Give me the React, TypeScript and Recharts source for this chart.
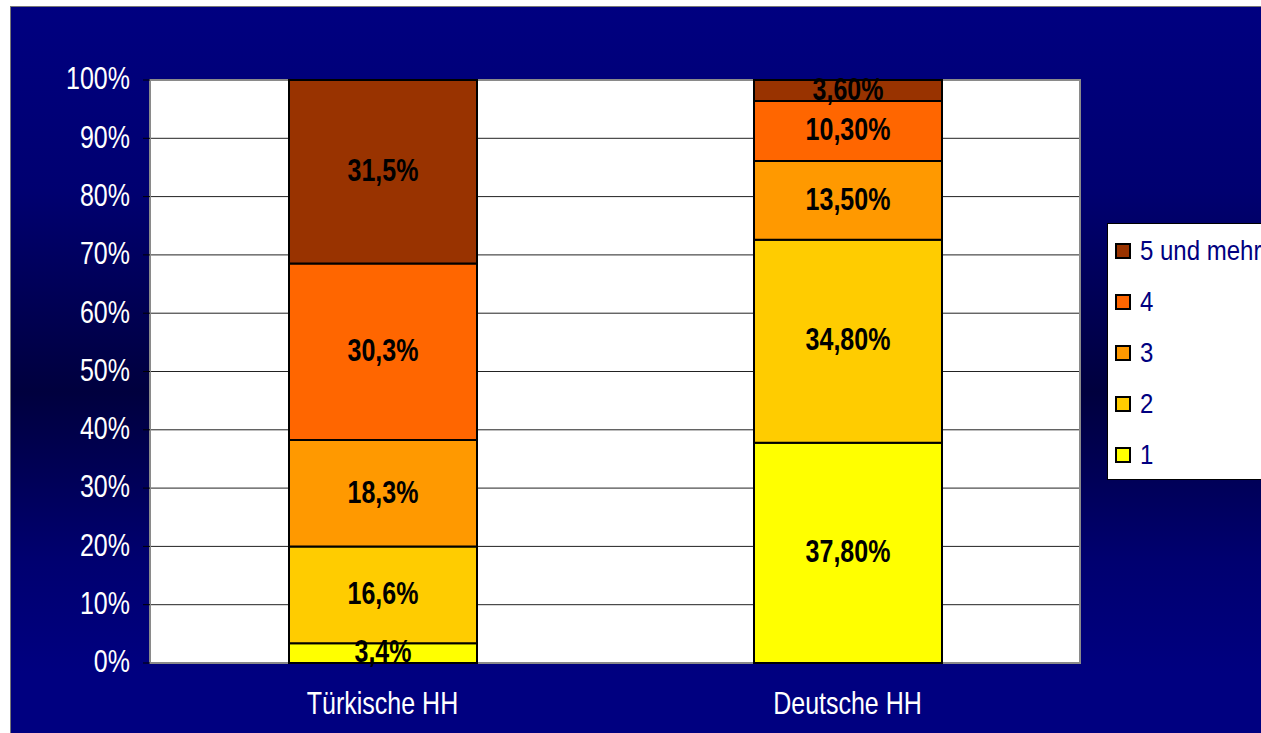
import React from "react";
import {
  Bar,
  BarChart,
  CartesianGrid,
  LabelList,
  Legend,
  ReferenceArea,
  XAxis,
  YAxis,
} from "recharts";

const categories = ["Türkische HH", "Deutsche HH"];
const seriesNames = ["1", "2", "3", "4", "5 und mehr"];
const seriesColors = ["#FFFF00", "#FFCC00", "#FF9900", "#FF6600", "#993300"];
const tuerkischeValues = [3.4, 16.6, 18.3, 30.3, 31.5];
const deutscheValues = [37.8, 34.8, 13.5, 10.3, 3.6];
const labelDecimals = [1, 2];
const yTicks = [0, 0.1, 0.2, 0.3, 0.4, 0.5, 0.6, 0.7, 0.8, 0.9, 1];

const FONT = "'Liberation Sans', Arial, Helvetica, sans-serif";
const STRETCH = 1.24;

const data = categories.map((c, i) => {
  const vals = i === 0 ? tuerkischeValues : deutscheValues;
  const row: Record<string, any> = { name: c, decimals: labelDecimals[i] };
  seriesNames.forEach((_, j) => {
    row["s" + j] = vals[j];
  });
  return row;
});

function fmt(v: number, decimals: number): string {
  return v.toFixed(decimals).replace(".", ",") + "%";
}

function SegmentLabel(props: any) {
  const x = Number(props.x);
  const y = Number(props.y);
  const w = Number(props.width);
  const h = Number(props.height);
  return (
    <g transform={`translate(${x + w / 2},${y + h / 2}) scale(1,${STRETCH})`}>
      <text x={0} y={0} dy="0.3em" textAnchor="middle" fontFamily={FONT} fontWeight="bold" fontSize={25} fill="#000">
        {props.value}
      </text>
    </g>
  );
}

function YTick(props: any) {
  const { x, y, payload } = props;
  return (
    <g transform={`translate(${x},${y}) scale(1,${STRETCH})`}>
      <text x={0} y={0} dy="0.3em" textAnchor="end" fontFamily={FONT} fontSize={25} fill="#fff">
        {Math.round(payload.value * 100) + "%"}
      </text>
    </g>
  );
}

function XTick(props: any) {
  const { x, y, payload } = props;
  return (
    <g transform={`translate(${x},${y}) scale(1,${STRETCH})`}>
      <text x={0} y={0} textAnchor="middle" fontFamily={FONT} fontSize={25} fill="#fff">
        {payload.value}
      </text>
    </g>
  );
}

function LegendBox(props: any) {
  const items = [...(props.payload ?? [])].reverse();
  return (
    <div
      style={{
        width: 200,
        height: 257,
        background: "#fff",
        border: "1px solid #000",
        boxSizing: "border-box",
        paddingTop: 1,
      }}
    >
      {items.map((it: any) => (
        <div key={it.value} style={{ height: 51.2, display: "flex", alignItems: "center" }}>
          <span
            style={{
              width: 12,
              height: 12,
              border: "2px solid #000",
              background: it.color,
              marginLeft: 7,
              flex: "none",
            }}
          />
          <span
            style={{
              marginLeft: 9,
              color: "#000080",
              fontFamily: FONT,
              fontSize: 24,
              lineHeight: 1,
              whiteSpace: "nowrap",
              display: "inline-block",
              transform: "scaleY(1.15)",
            }}
          >
            {it.value}
          </span>
        </div>
      ))}
    </div>
  );
}

export default function App() {
  return (
    <div style={{ position: "fixed", left: 0, top: 0, width: 1261, height: 733, overflow: "hidden", background: "#fff" }}>
      <div
        style={{
          position: "absolute",
          left: 10,
          top: 6,
          width: 1260,
          height: 740,
          borderTop: "1px solid #777",
          borderLeft: "1px solid #777",
          background: "linear-gradient(to bottom, #000080 0%, #000070 25%, #00003e 52%, #000070 75%, #000080 90%, #000080 100%)",
        }}
      />
      <div style={{ position: "absolute", left: 0, top: 0 }}>
        <BarChart
          width={1261}
          height={733}
          data={data}
          stackOffset="expand"
          barSize={188}
          margin={{ top: 80, right: 181, bottom: 0, left: 0 }}
        >
          <CartesianGrid vertical={false} horizontal stroke="#222" strokeOpacity={1} fill="#fff" />
          <XAxis
            xAxisId="edges"
            type="number"
            domain={[0, 2]}
            ticks={[0, 1, 2]}
            allowDataOverflow
            height={1}
            axisLine={false}
            tick={false}
            tickLine={{ stroke: "#000" }}
            tickSize={9}
          />
          <XAxis
            dataKey="name"
            height={69}
            axisLine={false}
            tickLine={false}
            tickSize={0}
            tickMargin={51}
            tick={<XTick />}
            interval={0}
          />
          <YAxis
            type="number"
            domain={[0, 1]}
            ticks={yTicks}
            width={150}
            axisLine={false}
            tickLine={{ stroke: "#000" }}
            tickSize={7}
            tickMargin={13}
            tick={<YTick />}
            interval={0}
          />
          <ReferenceArea y1={0} y2={1} fill="none" stroke="#8a8a8a" strokeWidth={2} ifOverflow="visible" />
          <Legend
            layout="vertical"
            align="center"
            verticalAlign="middle"
            wrapperStyle={{ left: 1107, top: 223, width: 200, height: 257 }}
            content={<LegendBox />}
          />
          {seriesNames.map((s, j) => (
            <Bar
              key={s}
              name={s}
              dataKey={"s" + j}
              stackId="a"
              fill={seriesColors[j]}
              stroke="#000"
              strokeWidth={2}
              isAnimationActive={false}
            >
              <LabelList dataKey={(d: any) => fmt(d["s" + j], d.decimals)} content={<SegmentLabel />} />
            </Bar>
          ))}
        </BarChart>
      </div>
    </div>
  );
}
